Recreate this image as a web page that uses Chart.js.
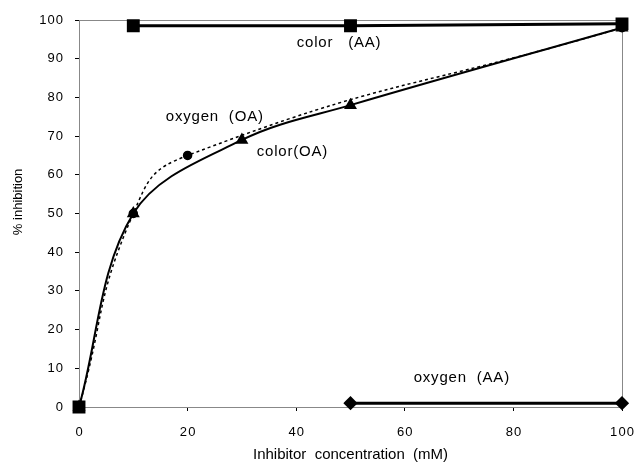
<!DOCTYPE html>
<html>
<head>
<meta charset="utf-8">
<script src="https://cdn.jsdelivr.net/npm/chart.js@4.4.1/dist/chart.umd.min.js"></script>
<style>
  html, body { margin: 0; padding: 0; background: #fff; }
  #wrap { width: 638px; height: 466px; }
</style>
</head>
<body>
<div id="wrap"><canvas id="chart"></canvas></div>
<script>
// values (x = inhibitor concentration mM, y = % inhibition)
const colorAAx = [0, 10, 50, 100];
const colorAAy = [0, 98.5, 98.5, 99];
const oxygenOAx = [0, 10, 20, 100];
const oxygenOAy = [0, 50, 65, 98];
const colorOAx = [0, 10, 30, 50, 100];
const colorOAy = [0, 50, 69, 78, 98];
const oxygenAAx = [50, 100];
const oxygenAAy = [1, 1];

const xTicks = [0, 20, 40, 60, 80, 100];
const yTicks = [0, 10, 20, 30, 40, 50, 60, 70, 80, 90, 100];

// curve labels, anchored in data units
const curveLabels = [
  { text: 'color   (AA)', x: 47.9, y: 94 },
  { text: 'oxygen  (OA)', x: 25, y: 75 },
  { text: 'color(OA)', x: 39.3, y: 66 },
  { text: 'oxygen  (AA)', x: 70.5, y: 7.5 }
];

const FONT = '"Liberation Sans", Arial, sans-serif';
const pts = (xs, ys) => xs.map((x, i) => ({ x: x, y: ys[i] }));
const spaced = v => String(v).split('').join('\u200A');

const framePlugin = {
  id: 'frame',
  beforeDatasetsDraw(chart) {
    const { ctx, chartArea: a } = chart;
    ctx.save();
    ctx.strokeStyle = '#888';
    ctx.lineWidth = 1;
    ctx.strokeRect(a.left + 0.5, a.top + 0.5, a.right - a.left, a.bottom - a.top);
    ctx.restore();
  },
  afterDatasetsDraw(chart) {
    const { ctx, scales } = chart;
    ctx.save();
    ctx.fillStyle = '#000';
    ctx.font = '15px ' + FONT;
    ctx.letterSpacing = '0.8px';
    ctx.textAlign = 'center';
    ctx.textBaseline = 'middle';
    curveLabels.forEach(l => {
      ctx.fillText(l.text, scales.x.getPixelForValue(l.x), scales.y.getPixelForValue(l.y));
    });
    // y axis title, sits a little above the middle in the original
    ctx.font = '13px ' + FONT;
    ctx.letterSpacing = '0px';
    ctx.translate(18, scales.y.getPixelForValue(53));
    ctx.rotate(-Math.PI / 2);
    ctx.fillText('% inhibition', 0, 0);
    ctx.restore();
  }
};

new Chart(document.getElementById('chart'), {
  type: 'scatter',
  data: {
    datasets: [
      {
        label: 'color (AA)', data: pts(colorAAx, colorAAy), showLine: true, clip: false,
        borderColor: '#000', backgroundColor: '#000', borderWidth: 3,
        pointStyle: 'rect', pointRadius: 7,
        segment: { borderColor: c => c.p0DataIndex === 0 ? 'rgba(0,0,0,0)' : '#000' }
      },
      {
        label: 'oxygen (OA)', data: pts(oxygenOAx, oxygenOAy), showLine: true, clip: false,
        borderColor: '#000', backgroundColor: '#000', borderWidth: 1.5, borderDash: [3, 3],
        pointStyle: 'circle', pointRadius: 4, tension: 0.5
      },
      {
        label: 'color(OA)', data: pts(colorOAx, colorOAy), showLine: true, clip: false,
        borderColor: '#000', backgroundColor: '#000', borderWidth: 2,
        pointStyle: 'triangle', pointRadius: 5.5, tension: 0.35
      },
      {
        label: 'oxygen (AA)', data: pts(oxygenAAx, oxygenAAy), showLine: true, clip: false,
        borderColor: '#000', backgroundColor: '#000', borderWidth: 3,
        pointStyle: 'rectRot', pointRadius: 5
      }
    ]
  },
  options: {
    responsive: true,
    maintainAspectRatio: false,
    animation: false,
    layout: { padding: { top: 20, right: 0, bottom: 0, left: 0 } },
    plugins: { legend: { display: false }, tooltip: { enabled: false } },
    scales: {
      x: {
        type: 'linear', min: 0, max: 100,
        afterBuildTicks: s => { s.ticks = xTicks.map(v => ({ value: v })); },
        afterFit: s => { s.height = 59; s.paddingLeft = 0; s.paddingRight = 16; },
        ticks: {
          color: '#000', padding: 14,
          font: { family: FONT, size: 13 },
          callback: v => spaced(v)
        },
        grid: { drawOnChartArea: false, tickLength: 4, color: '#000' },
        border: { color: '#000', width: 1 },
        title: {
          display: true, text: 'Inhibitor  concentration  (mM)', color: '#000',
          font: { family: FONT, size: 15 },
          padding: { top: 0, bottom: 2 }
        }
      },
      y: {
        type: 'linear', min: 0, max: 100,
        afterBuildTicks: s => { s.ticks = yTicks.map(v => ({ value: v })); },
        afterFit: s => { s.width = 79; },
        ticks: {
          color: '#000', padding: 12,
          font: { family: FONT, size: 13 },
          callback: v => spaced(v)
        },
        grid: { drawOnChartArea: false, tickLength: 4, color: '#000' },
        border: { color: '#000', width: 1 }
      }
    }
  },
  plugins: [framePlugin]
});
</script>
</body>
</html>
